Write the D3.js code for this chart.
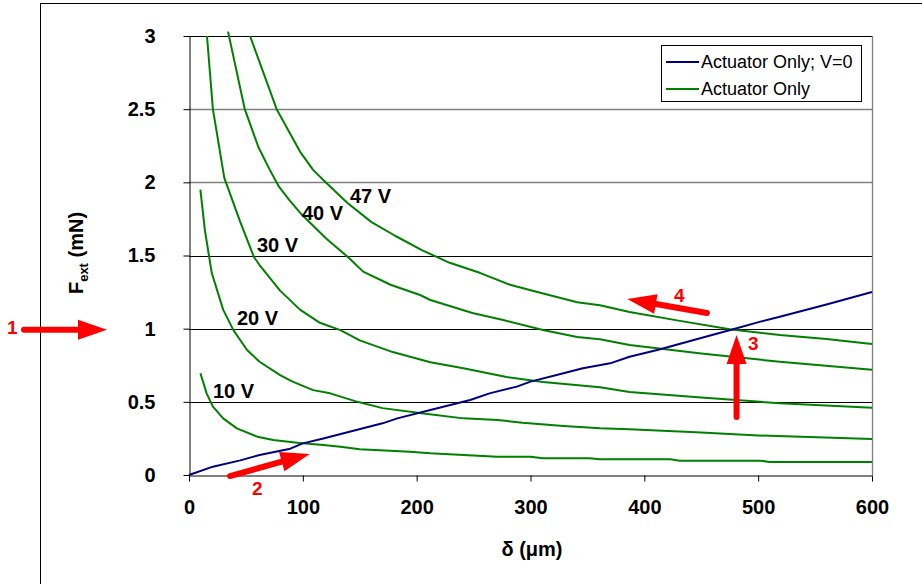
<!DOCTYPE html>
<html>
<head>
<meta charset="utf-8">
<script src="https://cdn.jsdelivr.net/npm/d3@7"></script>
<style>
  html, body { margin: 0; padding: 0; background: #fff; }
  svg { display: block; font-family: "Liberation Sans", Arial, sans-serif; }
</style>
</head>
<body>
<svg id="chart" width="922" height="584"></svg>
<script>
// datos: [delta (um), F (mN)]
var v0Points = [[0,0],[21,0.057],[45,0.10],[62,0.137],[89,0.18],[100,0.216],[118,0.25],[141,0.296],[170,0.353],[183,0.387],[212,0.444],[247,0.513],[264,0.558],[288,0.604],[300,0.638],[329,0.695],[346,0.729],[370,0.763],[387,0.808],[414,0.859],[449,0.934],[478,0.996],[502,1.048],[519,1.082],[560,1.165],[600,1.25]];
var v10Points = [[10,0.695],[15.5,0.558],[21,0.467],[30,0.387],[42,0.319],[60,0.262],[74,0.239],[95,0.221],[118,0.205],[133,0.193],[150,0.176],[194,0.159],[212,0.148],[241,0.137],[271,0.125],[300,0.125],[311,0.114],[352,0.114],[361,0.107],[423,0.107],[431,0.098],[502,0.098],[510,0.089],[600,0.089]];
var v20Points = [[10,1.95],[14,1.67],[20,1.38],[30,1.13],[39,0.99],[51,0.854],[62,0.774],[80,0.683],[91,0.638],[109,0.58],[124,0.558],[148,0.50],[170,0.457],[206,0.42],[241,0.387],[271,0.376],[293,0.357],[329,0.335],[361,0.319],[387,0.312],[450,0.29],[500,0.27],[600,0.246]];
var v30Points = [[15.8,3.0],[21,2.5],[31,2.03],[45,1.73],[57,1.49],[62,1.435],[80,1.26],[97.5,1.13],[115,1.04],[133,0.99],[150,0.92],[179,0.84],[212,0.77],[241,0.73],[279,0.67],[311,0.636],[361,0.599],[387,0.567],[450,0.53],[519,0.49],[600,0.46]];
var v40Points = [[34.3,3.03],[49,2.5],[61,2.24],[71,2.085],[79,1.97],[88,1.88],[99,1.78],[120,1.62],[141,1.48],[153,1.39],[177,1.30],[203,1.23],[212,1.196],[249,1.107],[276,1.059],[311,0.991],[341,0.943],[361,0.927],[387,0.888],[450,0.83],[519,0.774],[600,0.72]];
var v47Points = [[53.6,3.0],[77,2.5],[97.5,2.21],[109,2.085],[120,2.0],[139,1.86],[160,1.73],[181,1.635],[205,1.535],[229,1.45],[256,1.38],[282,1.30],[306,1.25],[341,1.18],[361,1.16],[387,1.114],[430,1.055],[475,0.996],[519,0.957],[560,0.93],[600,0.895]];

var greenSeries = [
  { label: "10 V", points: v10Points, lx: 213, ly: 398 },
  { label: "20 V", points: v20Points, lx: 237, ly: 325 },
  { label: "30 V", points: v30Points, lx: 257, ly: 252 },
  { label: "40 V", points: v40Points, lx: 302, ly: 220 },
  { label: "47 V", points: v47Points, lx: 350, ly: 203 }
];

var xTicks = [0, 100, 200, 300, 400, 500, 600];
var yTicks = [0, 0.5, 1, 1.5, 2, 2.5, 3];
var legendLabels = ["Actuator Only; V=0", "Actuator Only"];

var svg = d3.select("#chart");

// escalas
var xScale = d3.scaleLinear().domain([0, 600]).range([189, 872]);
var yScale = d3.scaleLinear().domain([0, 3]).range([475, 36]);

// marco exterior
svg.append("line").attr("x1", 40).attr("x2", 922).attr("y1", 3.5).attr("y2", 3.5)
  .attr("stroke", "#000").attr("stroke-width", 1);
svg.append("line").attr("x1", 40.5).attr("x2", 40.5).attr("y1", 3).attr("y2", 584)
  .attr("stroke", "#000").attr("stroke-width", 1);

// lineas de cuadricula
yTicks.filter(d => d > 0).forEach(d => {
  var y = Math.round(yScale(d)) + 0.5;
  svg.append("line")
    .attr("x1", xScale(0)).attr("x2", xScale(600))
    .attr("y1", y).attr("y2", y)
    .attr("stroke", (d == 2 || d == 2.5) ? "#808080" : "#000")
    .attr("stroke-width", (d == 2 || d == 2.5) ? 1.3 : 1);
});
// borde derecho del area
svg.append("line").attr("x1", xScale(600) + 0.5).attr("x2", xScale(600) + 0.5)
  .attr("y1", yScale(3)).attr("y2", yScale(0))
  .attr("stroke", "#808080").attr("stroke-width", 1.3);

// ejes
var xAxis = d3.axisBottom(xScale).tickValues(xTicks).tickSize(6).tickSizeOuter(0).tickPadding(18);
var yAxis = d3.axisLeft(yScale).tickValues(yTicks).tickSize(6).tickSizeOuter(0).tickPadding(28)
  .tickFormat(d => d3.format("")(d));

var gx = svg.append("g").attr("transform", "translate(0," + (yScale(0) + 0.5) + ")").call(xAxis);
var gy = svg.append("g").attr("transform", "translate(" + (xScale(0) + 0.5) + ",0)").call(yAxis);
[gx, gy].forEach(g => {
  g.select(".domain").attr("stroke", "#000");
  g.selectAll(".tick line").attr("stroke", "#000");
  g.selectAll("text").attr("fill", "#000").attr("font-size", 20).attr("font-weight", "bold")
    .attr("font-family", "Liberation Sans, Arial, sans-serif");
});
gy.selectAll(".tick").select("line").attr("x2", -6);

// curvas
var line = d3.line().x(d => xScale(d[0])).y(d => yScale(d[1]));

greenSeries.forEach(s => {
  svg.append("path").attr("d", line(s.points))
    .attr("fill", "none").attr("stroke", "#008000").attr("stroke-width", 2)
    .attr("stroke-linejoin", "round");
});
svg.append("path").attr("d", line(v0Points))
  .attr("fill", "none").attr("stroke", "#000080").attr("stroke-width", 2)
  .attr("stroke-linejoin", "round");

// etiquetas de voltaje
greenSeries.forEach(s => {
  svg.append("text").attr("x", s.lx).attr("y", s.ly)
    .attr("font-size", 20).attr("font-weight", "bold").attr("fill", "#000")
    .text(s.label);
});

// titulos de ejes
svg.append("text").attr("x", 532).attr("y", 556).attr("text-anchor", "middle")
  .attr("font-size", 20).attr("font-weight", "bold").text("\u03b4 (\u03bcm)");

var yt = svg.append("text").attr("transform", "translate(83,253) rotate(-90)")
  .attr("text-anchor", "middle").attr("font-size", 20).attr("font-weight", "bold");
yt.append("tspan").text("F");
yt.append("tspan").attr("font-size", 13).attr("dy", 5).text("ext");
yt.append("tspan").attr("dy", -5).text(" (mN)");

// leyenda
var leg = svg.append("g");
leg.append("rect").attr("x", 661.5).attr("y", 45.5).attr("width", 200).attr("height", 56)
  .attr("fill", "#fff").attr("stroke", "#000").attr("stroke-width", 1);
[["#000080", 62], ["#008000", 89]].forEach((c, i) => {
  leg.append("line").attr("x1", 666).attr("x2", 699).attr("y1", c[1]).attr("y2", c[1])
    .attr("stroke", c[0]).attr("stroke-width", 2);
  leg.append("text").attr("x", 701).attr("y", c[1] + 6).attr("font-size", 18)
    .attr("fill", "#000").text(legendLabels[i]);
});

// flechas rojas
function arrow(x1, y1, x2, y2) {
  var ang = Math.atan2(y2 - y1, x2 - x1);
  var hl = 29, hw = 10;
  var bx = x2 - hl * Math.cos(ang), by = y2 - hl * Math.sin(ang);
  svg.append("line").attr("x1", x1).attr("y1", y1).attr("x2", bx).attr("y2", by)
    .attr("stroke", "#ff0000").attr("stroke-width", 6).attr("stroke-linecap", "round");
  var px = -Math.sin(ang) * hw, py = Math.cos(ang) * hw;
  svg.append("path")
    .attr("d", "M" + x2 + "," + y2 + "L" + (bx + px) + "," + (by + py) + "L" + (bx - px) + "," + (by - py) + "Z")
    .attr("fill", "#ff0000");
}
function redLabel(x, y, t) {
  svg.append("text").attr("x", x).attr("y", y).attr("font-size", 19).attr("font-weight", "bold")
    .attr("fill", "#ff0000").text(t);
}

arrow(24, yScale(1) + 1, 107, yScale(1) + 1);
redLabel(7, 334, "1");
arrow(xScale(36), yScale(-0.007), xScale(106), yScale(0.144));
redLabel(252, 495, "2");
arrow(xScale(481), yScale(0.396), xScale(481), yScale(0.957));
redLabel(748, 350, "3");
arrow(xScale(455), yScale(1.107), xScale(385), yScale(1.203));
redLabel(674, 302, "4");
</script>
</body>
</html>
